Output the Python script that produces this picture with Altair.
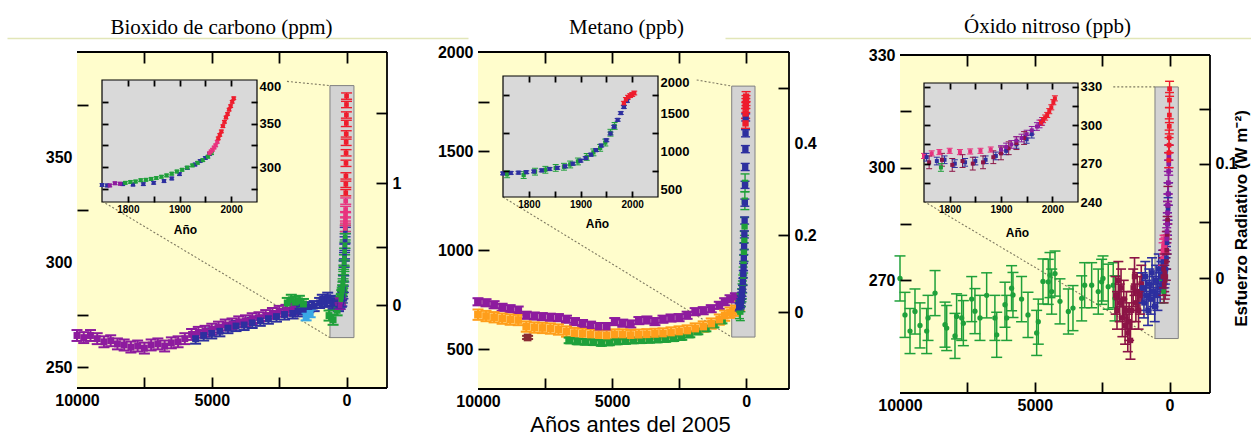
import altair as alt
import pandas as pd

W, H = 1251, 440
SANS = "Liberation Sans"
SERIF = "Liberation Serif"

# ======================= DATA =======================
series_names = ["purple", "blue", "green", "lightblue", "pink", "red", "orange", "maroon", "brown"]
series_colors = ["#8d1b9e", "#2d2f9f", "#1fa03a", "#3aa8e6", "#e8327e", "#ee1c2c", "#ff9e1b", "#8c1446", "#8a2c34"]

# ---- Carbon dioxide (ppm), ice cores, years before 2005 ----
co2_purple_bp = [10000, 9750, 9500, 9250, 9000, 8750, 8500, 8250, 8000, 7750, 7500, 7250, 7000, 6750, 6500, 6250,
                 6000, 5750, 5500, 5250, 5000, 4750, 4500, 4250, 4000, 3750, 3500, 3250, 3000, 2750, 2500, 2250, 2000]
co2_purple_val = [265, 264, 265, 263.5, 262, 262.5, 261, 260.5, 259.5, 260, 259, 260.5, 261, 260, 261.5, 262,
                  263.5, 265.5, 266.5, 267, 268, 269, 270, 270.5, 271.5, 272, 273, 273.5, 274.5, 275.5, 276.5, 277, 277.5]
co2_blue_bp = [5600, 5300, 5000, 4700, 4400, 4100, 3800, 3500, 3200, 2900, 2600, 2300, 2000, 1800, 1600, 1400,
               1200, 1000, 900, 800, 700, 600, 500, 400, 300]
co2_blue_val = [263.5, 265, 266, 267, 268.5, 269.5, 270, 271, 272, 273, 274, 275, 275.5, 276.5, 277.5, 278.5,
                279, 280.5, 282, 281, 283, 281.5, 280, 281, 279]
co2_green_bp = [2200, 2050, 1900, 1750, 1600, 650, 500, 350]
co2_green_val = [280.5, 282, 281, 281.5, 280, 274.5, 272.5, 277]
co2_lblue_bp = [1500, 1350]
co2_lblue_val = [274, 275.5]
# recent record (calendar year)
co2r_purple_yr = [1765, 1775, 1785]
co2r_purple_val = [279, 281.5, 281]
co2r_blue_yr = [1750, 1760, 1790, 1810, 1830, 1850, 1870, 1885, 1900, 1915, 1930, 1940, 1950, 1958]
co2r_blue_val = [279.5, 279, 280.5, 280, 280.5, 282, 284, 287, 292, 299, 303, 307, 310.5, 315]
co2r_green_yr = [1795, 1805, 1815, 1825, 1835, 1845, 1855, 1865, 1875, 1885, 1895, 1905, 1915, 1925, 1935, 1945, 1955, 1962]
co2r_green_val = [282, 283, 283.5, 285, 285.5, 286.5, 287.5, 289, 290.5, 292.5, 295, 297, 299.5, 302, 305, 308, 312, 316]
co2r_pink_yr = [1958, 1961, 1964, 1967, 1970, 1973]
co2r_pink_val = [316, 318, 320, 322.5, 325, 329]
co2r_red_yr = [1975, 1978, 1981, 1984, 1987, 1990, 1993, 1996, 1999, 2002, 2005]
co2r_red_val = [333, 337, 341, 347, 352, 357, 361, 366, 370, 375, 379]

# ---- Methane (ppb) ----
ch4_purple_bp = [10000, 9700, 9400, 9100, 8800, 8500, 8200, 7900, 7600, 7300, 7000, 6700, 6400, 6100, 5800, 5500, 5200,
                 4900, 4600, 4300, 4000, 3700, 3400, 3100, 2800, 2500, 2200, 1900, 1600, 1300, 1000, 800, 600, 400]
ch4_purple_val = [740, 735, 725, 712, 705, 698, 672, 668, 665, 662, 660, 652, 640, 630, 622, 615, 615,
                  640, 632, 628, 645, 648, 640, 652, 658, 660, 672, 690, 695, 705, 722, 740, 755, 765]
ch4_orange_bp = [10000, 9700, 9400, 9100, 8800, 8500, 8200, 7900, 7600, 7300, 7000, 6700, 6400, 6100, 5800, 5500, 5200,
                 4900, 4600, 4300, 4000, 3700, 3400, 3100, 2800, 2500, 2200, 1900, 1600, 1300, 1000, 800, 600, 400, 250]
ch4_orange_val = [675, 668, 662, 655, 650, 648, 615, 610, 608, 605, 600, 590, 582, 578, 575, 572, 570,
                  575, 575, 572, 574, 576, 578, 580, 585, 590, 595, 605, 615, 630, 650, 670, 685, 695, 720]
ch4_green_bp = [6600, 6300, 6000, 5700, 5400, 5100, 4800, 4500, 4200, 3900, 3600, 3300, 3000, 2700, 2400, 2100,
                1800, 1500, 1200, 900]
ch4_green_val = [545, 540, 538, 536, 532, 535, 540, 542, 545, 546, 548, 550, 552, 556, 562, 575,
                 590, 605, 625, 645]
ch4_brown_bp = [8150]
ch4_brown_val = [560]
ch4r_blue_yr = [1750, 1765, 1780, 1795, 1810, 1825, 1840, 1855, 1870, 1885, 1900, 1910, 1920, 1930, 1940, 1950,
                1958, 1965, 1972, 1978, 1984, 1990]
ch4r_blue_val = [712, 718, 722, 728, 738, 752, 770, 785, 805, 840, 880, 915, 960, 1020, 1080, 1150,
                 1240, 1330, 1420, 1510, 1590, 1670]
ch4r_green_yr = [1758, 1790, 1812, 1832, 1852, 1868, 1880, 1895, 1912, 1925, 1938, 1948, 1958, 1966]
ch4r_green_val = [700, 690, 735, 760, 785, 800, 830, 870, 930, 990, 1050, 1120, 1250, 1340]
ch4r_red_yr = [1984, 1988, 1992, 1996, 2000, 2004]
ch4r_red_val = [1640, 1690, 1720, 1740, 1755, 1775]

# ---- Nitrous oxide (ppb) ----
n2o_green_bp = [10000, 9815, 9629, 9444, 9258, 9010, 8960, 8700, 8330, 8268, 7960, 7900, 7711, 7650, 7340,
                7220, 7033, 6785, 6480, 6413, 6105, 6042, 5860, 5809, 5490, 5252, 4930, 4870, 4696, 4500,
                4436, 4373, 4250, 4065, 3755, 3583, 3260, 3150, 2890, 2645, 2520, 2470, 2275, 2090, 2025]
n2o_green_val = [270.5, 260.8, 256.5, 261.7, 258, 256.5, 260, 266.6, 258.2, 257.3, 255.2, 260.4, 260, 258.6, 265,
                 261.8, 260, 266, 260, 255.5, 263.5, 260, 267.9, 266.1, 265, 260.8, 256, 259, 269.7, 269.6,
                 271.4, 267, 271.8, 264.4, 261.7, 262.6, 265.2, 268.7, 268.7, 267, 269.6, 270.5, 268.3, 268.7, 265.2]
n2o_maroon_bp = [2000, 1950, 1900, 1850, 1800, 1750, 1700, 1650, 1600, 1550, 1500, 1450, 1400, 1350, 1300,
                 1250, 1200, 1150, 1100, 1050]
n2o_maroon_val = [266, 262, 270, 264, 268, 260, 265, 258, 262, 256, 259, 254, 262, 268, 271, 264, 267, 262, 266, 269]
n2o_blue_bp = [1000, 950, 900, 850, 800, 750, 700, 650, 600, 550, 500, 450, 400, 350, 300]
n2o_blue_val = [268, 264, 271, 266, 262, 269, 265, 272, 267, 263, 270, 266, 273, 268, 271]
n2or_pink_yr = [1750, 1765, 1780, 1800, 1820, 1840, 1860, 1880]
n2or_pink_val = [276, 278, 279, 280, 279, 279.5, 280, 281]
n2or_blue_yr = [1755, 1775, 1790, 1810, 1830, 1850, 1870, 1890, 1910, 1930, 1950, 1960]
n2or_blue_val = [275, 272, 273, 270, 271, 272, 273, 276, 280, 285, 289, 293]
n2or_maroon_yr = [1760, 1785, 1805, 1825, 1845, 1865, 1885, 1900, 1915, 1930, 1945]
n2or_maroon_val = [271, 273, 269, 272, 270, 271, 275, 278, 282, 286, 290]
n2or_purple_yr = [1900, 1910, 1920, 1930, 1940, 1950, 1960, 1970, 1975, 1980]
n2or_purple_val = [281, 283, 285, 288, 290, 293, 296, 299, 301, 303]
n2or_red_yr = [1978, 1982, 1986, 1990, 1994, 1998, 2002, 2005]
n2or_red_val = [302, 304, 306, 308, 311, 314, 318, 321]
n2or_green_yr = [1783]
n2or_green_val = [267]

# zoom boxes [x1, x2, y1, y2] and connector lines [x, y, x2, y2] in main-panel data units
co2_box = [616, -274, 264, 384]
ch4_box = [537, -332, 562, 1828]
n2o_box = [541, -323, 254.5, 321.5]
co2_links = [[2211, 386, 616, 384], [9073, 329, 616, 264]]
ch4_links = [[1843, 1859, 537, 1828], [9067, 1268, 537, 562]]
n2o_links = [[2088, 321.5, 541, 321.5], [9110, 291, 541, 254.5]]

# axis ticks / labels
main_x_vals = [10000, 7500, 5000, 2500, 0]
main_x_labs = ["10000", "", "5000", "", "0"]
main_top_vals = [7500, 5000, 2500, 0]
co2_y_vals = [250, 275, 300, 325, 350, 375]
co2_y_labs = ["250", "", "300", "", "350", ""]
ch4_y_vals = [500, 1000, 1500, 1750, 2000]
ch4_y_labs = ["500", "1000", "1500", "", "2000"]
n2o_y_vals = [270, 285, 300, 315, 330]
n2o_y_labs = ["270", "", "300", "", "330"]
# radiative forcing ticks, placed at the concentration they correspond to
co2_rf_pos = [279.5, 307, 337.5, 371]
co2_rf_labs = ["0", "", "1", ""]
ch4_rf_pos = [687, 1076, 1540, 1818]
ch4_rf_labs = ["0", "0.2", "0.4", ""]
n2o_rf_pos = [270.5, 285.6, 301, 315.5]
n2o_rf_labs = ["0", "", "0.1", ""]
inset_x_vals = [1800, 1850, 1900, 1950, 2000]
inset_x_labs = ["1800", "", "1900", "", "2000"]
co2_iy_vals = [275, 300, 325, 350, 375, 400]
co2_iy_labs = ["", "300", "", "350", "", "400"]
ch4_iy_vals = [500, 750, 1000, 1250, 1500, 1750, 2000]
ch4_iy_labs = ["500", "", "1000", "", "1500", "", "2000"]
n2o_iy_vals = [240, 255, 270, 285, 300, 315, 330]
n2o_iy_labs = ["240", "", "270", "", "300", "", "330"]

# ======================= HELPERS =======================
CS = alt.Scale(domain=series_names, range=series_colors)


def hol_df(bp, val, err, s):
    return pd.DataFrame({"bp": bp, "val": val, "lo": [v - err for v in val],
                         "hi": [v + err for v in val], "s": s})


def rec_df(yr, val, err, s):
    d = pd.DataFrame({"yr": yr, "val": val, "lo": [v - err for v in val],
                      "hi": [v + err for v in val], "s": s})
    d["bp"] = 2005 - d["yr"]
    return d


def sc(dom, rng):
    return alt.Scale(domain=list(dom), range=list(rng), nice=False, zero=False)


def errpts(df, xf, xs, ys, size, cap, shape="square", sw=1.3):
    base = alt.Chart(df)
    X = alt.X(xf, type="quantitative", scale=xs, axis=None)
    C = alt.Color("s:N", scale=CS, legend=None)
    return [
        base.mark_rule(strokeWidth=sw, opacity=1).encode(
            x=X, y=alt.Y("lo:Q", scale=ys, axis=None), y2="hi:Q", color=C),
        base.mark_tick(orient="horizontal", size=cap, thickness=sw, opacity=1).encode(
            x=X, y=alt.Y("lo:Q", scale=ys, axis=None), color=C),
        base.mark_tick(orient="horizontal", size=cap, thickness=sw, opacity=1).encode(
            x=X, y=alt.Y("hi:Q", scale=ys, axis=None), color=C),
        base.mark_point(shape=shape, filled=True, size=size, opacity=1, strokeWidth=0).encode(
            x=X, y=alt.Y("val:Q", scale=ys, axis=None), color=C),
    ]


def rect(box, xs, ys, fill, stroke=None, sw=1.0):
    df = pd.DataFrame({"x": [box[0]], "x2": [box[1]], "y": [box[2]], "y2": [box[3]]})
    kw = dict(fill=fill, opacity=1)
    if stroke:
        kw.update(stroke=stroke, strokeWidth=sw)
    return alt.Chart(df).mark_rect(**kw).encode(
        x=alt.X("x:Q", scale=xs, axis=None), x2="x2:Q",
        y=alt.Y("y:Q", scale=ys, axis=None), y2="y2:Q")


def rules(rows, xs, ys, color, sw, dash=None):
    df = pd.DataFrame({"x": [r[0] for r in rows], "y": [r[1] for r in rows],
                       "x2": [r[2] for r in rows], "y2": [r[3] for r in rows]})
    kw = dict(color=color, strokeWidth=sw)
    if dash:
        kw["strokeDash"] = dash
    return alt.Chart(df).mark_rule(**kw).encode(
        x=alt.X("x:Q", scale=xs, axis=None), x2="x2:Q",
        y=alt.Y("y:Q", scale=ys, axis=None), y2="y2:Q")


def lab_expr(vals, labs):
    e = "''"
    for v, l in reversed(list(zip(vals, labs))):
        e = f"datum.value == {v} ? '{l}' : ({e})"
    return e


def tick_op(hidden):
    if not hidden:
        return 1
    return {"condition": {"test": f"indexof({list(hidden)}, datum.value) >= 0", "value": 0}, "value": 1}


def ax(orient, offset, values, labels=None, hide=(), tick=11, fs=16, pad=4, flush=False, **extra):
    kw = dict(orient=orient, offset=offset, values=list(values), domain=False, grid=False,
              ticks=True, tickSize=tick, tickWidth=1.8, tickColor="black", tickOpacity=tick_op(hide),
              labelFlush=flush, labelOverlap=False, zindex=3, title=extra.pop("title", ""))
    if labels is None:
        kw["labels"] = False
    else:
        kw.update(labels=True, labelExpr=lab_expr(values, labels), labelFont=SANS,
                  labelFontWeight="bold", labelFontSize=fs, labelColor="black", labelPadding=pad)
    kw.update(extra)
    return alt.Axis(**kw)


def axis_layer(xs, ys, xdom, ydom, xaxis, yaxis):
    df = pd.DataFrame({"x": list(xdom), "y": list(ydom)})
    return alt.Chart(df).mark_point(opacity=0).encode(
        x=alt.X("x:Q", scale=xs, axis=xaxis), y=alt.Y("y:Q", scale=ys, axis=yaxis))


def faint_line(x0, x1, y):
    df = pd.DataFrame({"x": [0, 1], "y": [0, 1]})
    return alt.Chart(df).mark_point(opacity=0).encode(
        x=alt.X("x:Q", scale=sc([0, 1], [x0, x1]),
                axis=alt.Axis(orient="top", offset=-y, domain=True, domainColor="#e2e6b8", domainWidth=1.5,
                              ticks=False, labels=False, grid=False, title="")),
        y=alt.Y("y:Q", scale=sc([0, 1], [H, 0]), axis=None))


def panel(g, hol_groups, rec_groups_main, rec_groups_inset, box, links,
          y_vals, y_labs, y_hide, rf_pos, rf_labs, rf_hide,
          iy_vals, iy_labs, iy_hide, iy_left, iflush,
          title, title_x, title_y, ano_x, ano_y, bottom_title=None, right_title=None):
    T, t = 11, 6
    xs, ys = sc(g["x"], g["xr"]), sc(g["y"], g["yr"])
    ixs, iys = sc(g["ix"], g["ixr"]), sc(g["iy"], g["iyr"])
    L, R = g["xr"]
    B, Tp = g["yr"]
    iL, iR = g["ixr"]
    iB, iT = g["iyr"]
    x0, x1 = g["x"]
    y0, y1 = g["y"]
    out = [rect([x0, x1, y0, y1], xs, ys, "#fffdcc"),
           rect(box, xs, ys, "#d3d3d3", stroke="#808080", sw=1),
           rules(links, xs, ys, "#7f7a62", 1.1, dash=[2, 2])]
    for df, size, cap, shape, sw in hol_groups:
        out += errpts(df, "bp", xs, ys, size, cap, shape, sw)
    for df, size, cap, shape, sw in rec_groups_main:
        out += errpts(df, "bp", xs, ys, size, cap, shape, sw)
    out.append(rect([g["ix"][0], g["ix"][1], g["iy"][0], g["iy"][1]], ixs, iys, "#d9d9d9", stroke="black", sw=1.2))
    for df, size, cap, shape, sw in rec_groups_inset:
        out += errpts(df, "yr", ixs, iys, size, cap, shape, sw)

    # main axes
    bkw = {}
    if bottom_title:
        bkw = dict(title=bottom_title[0], titleFont=SANS, titleFontSize=22, titleFontWeight="normal",
                   titleColor="black", titleX=bottom_title[1], titleY=bottom_title[2],
                   titleBaseline="alphabetic", titleAlign="center", titleAngle=0)
    rkw = {}
    if right_title:
        rkw = dict(title=right_title[0], titleFont=SANS, titleFontSize=right_title[3], titleFontWeight="bold",
                   titleColor="black", titleX=right_title[1], titleY=right_title[2], titleAngle=270,
                   titleBaseline="alphabetic", titleAlign="center")
    out.append(axis_layer(xs, ys, g["x"], g["y"],
                          ax("bottom", (B - T) - H, main_x_vals, main_x_labs, hide=[10000], tick=T, pad=4, **bkw),
                          ax("left", -(L + T), y_vals, y_labs, hide=y_hide, tick=T, pad=5)))
    out.append(axis_layer(xs, ys, g["x"], g["y"],
                          ax("top", -(Tp + T), main_top_vals, tick=T, title=title, titleFont=SERIF,
                             titleFontSize=21, titleFontWeight="normal", titleColor="black",
                             titleX=title_x, titleY=title_y - (Tp + T), titleBaseline="alphabetic",
                             titleAlign="center"),
                          ax("right", (R - T) - W, rf_pos, rf_labs, hide=rf_hide, tick=T, pad=5, **rkw)))
    # inset axes
    out.append(axis_layer(ixs, iys, g["ix"], g["iy"],
                          ax("bottom", (iB - t) - H, inset_x_vals, inset_x_labs, tick=t, fs=10, pad=2,
                             title="Año", titleFont=SANS, titleFontSize=12, titleFontWeight="bold",
                             titleColor="black", titleX=ano_x, titleY=ano_y - (iB - t),
                             titleBaseline="middle", titleAlign="center"),
                          ax("left", -(iL + t), iy_left, tick=t)))
    out.append(axis_layer(ixs, iys, g["ix"], g["iy"],
                          ax("top", -(iT + t), inset_x_vals, tick=t),
                          ax("right", (iR - t) - W, iy_vals, iy_labs, hide=iy_hide, tick=t, fs=13, pad=2,
                             flush=iflush)))
    # frame (top, bottom, right)
    out.append(rules([[x0, y1, x1, y1], [x0, y0, x1, y0], [x1, y0, x1, y1]], xs, ys, "black", 1.8))
    return out


G = {
    "co2": dict(x=(10000, -1500), xr=(77, 387), y=(240, 400), yr=(388, 52),
                ix=(1750, 2050), ixr=(102, 257), iy=(260, 400), iyr=(202, 80)),
    "ch4": dict(x=(10000, -1600), xr=(478, 789), y=(300, 2000), yr=(389, 52),
                ix=(1750, 2050), ixr=(503, 658), iy=(400, 2000), iyr=(197, 76)),
    "n2o": dict(x=(10000, -1500), xr=(900, 1210), y=(240, 330), yr=(393, 55),
                ix=(1750, 2050), ixr=(924, 1078), iy=(240, 333), iyr=(202, 83)),
}

# ---------- CO2 panel ----------
co2_hol = pd.concat([hol_df(co2_purple_bp, co2_purple_val, 2.6, "purple"),
                     hol_df(co2_blue_bp, co2_blue_val, 2.4, "blue"),
                     hol_df(co2_green_bp, co2_green_val, 2.4, "green"),
                     hol_df(co2_lblue_bp, co2_lblue_val, 1.8, "lightblue")])
co2_rec = pd.concat([rec_df(co2r_blue_yr, co2r_blue_val, 1.5, "blue"),
                     rec_df(co2r_purple_yr, co2r_purple_val, 1.5, "purple"),
                     rec_df(co2r_green_yr, co2r_green_val, 1.5, "green"),
                     rec_df(co2r_pink_yr, co2r_pink_val, 1.5, "pink"),
                     rec_df(co2r_red_yr, co2r_red_val, 1.5, "red")])
co2_layers = panel(G["co2"], [(co2_hol, 48, 11, "square", 2.0)], [(co2_rec, 22, 11, "square", 1.4)],
                   [(co2_rec, 16, 5, "square", 1.0)], co2_box, co2_links,
                   co2_y_vals, co2_y_labs, [300, 350], co2_rf_pos, co2_rf_labs, [],
                   co2_iy_vals, co2_iy_labs, [400], [275, 300, 325, 350, 375], True,
                   "Bioxido de carbono (ppm)", 221, 33, 185, 229)

# ---------- CH4 panel ----------
ch4_hol = pd.concat([hol_df(ch4_green_bp, ch4_green_val, 14, "green"),
                     hol_df(ch4_orange_bp, ch4_orange_val, 26, "orange"),
                     hol_df(ch4_purple_bp, ch4_purple_val, 18, "purple"),
                     hol_df(ch4_brown_bp, ch4_brown_val, 8, "brown")])
ch4_rec = pd.concat([rec_df(ch4r_green_yr, ch4r_green_val, 45, "green"),
                     rec_df(ch4r_blue_yr, ch4r_blue_val, 18, "blue"),
                     rec_df(ch4r_red_yr, ch4r_red_val, 25, "red")])
ch4_layers = panel(G["ch4"], [(ch4_hol, 60, 11, "square", 2.0)], [(ch4_rec, 40, 9, "square", 1.4)],
                   [(ch4_rec, 18, 6, "square", 1.0)], ch4_box, ch4_links,
                   ch4_y_vals, ch4_y_labs, [2000], ch4_rf_pos, ch4_rf_labs, [1540],
                   ch4_iy_vals, ch4_iy_labs, [500, 1000, 1500, 2000], [750, 1250, 1750], True,
                   "Metano (ppb)", 626, 33, 597, 223,
                   bottom_title=("Años antes del 2005", 630, 53))

# ---------- N2O panel ----------
n2o_green = hol_df(n2o_green_bp, n2o_green_val, 6, "green")
n2o_other = pd.concat([hol_df(n2o_maroon_bp, n2o_maroon_val, 5, "maroon"),
                       hol_df(n2o_blue_bp, n2o_blue_val, 4, "blue")])
n2o_rec = pd.concat([rec_df(n2or_pink_yr, n2or_pink_val, 2, "pink"),
                     rec_df(n2or_green_yr, n2or_green_val, 3, "green"),
                     rec_df(n2or_blue_yr, n2or_blue_val, 3, "blue"),
                     rec_df(n2or_maroon_yr, n2or_maroon_val, 5, "maroon"),
                     rec_df(n2or_purple_yr, n2or_purple_val, 3, "purple"),
                     rec_df(n2or_red_yr, n2or_red_val, 2, "red")])
n2o_layers = panel(G["n2o"], [(n2o_green, 28, 11, "circle", 1.5), (n2o_other, 30, 10, "square", 1.6)],
                   [(n2o_rec, 22, 9, "square", 1.4)], [(n2o_rec, 16, 6, "square", 1.0)], n2o_box, n2o_links,
                   n2o_y_vals, n2o_y_labs, [330], n2o_rf_pos, n2o_rf_labs, [],
                   n2o_iy_vals, n2o_iy_labs, [240], [255, 270, 285, 300, 315, 330], False,
                   "Óxido nitroso (ppb)", 1047, 32, 1017, 232,
                   right_title=("Esfuerzo Radiativo (W m⁻²)", 47, 218, 17))

layers = [faint_line(7, 468, 38), faint_line(725, 1251, 38)] + co2_layers + ch4_layers + n2o_layers

chart = alt.layer(*layers).resolve_scale(x="independent", y="independent").properties(
    width=W, height=H, autosize=alt.AutoSizeParams(type="none"), padding=0, background="white"
).configure_view(stroke=None)

chart.save("out.html", embed_options={"renderer": "svg", "actions": False})
